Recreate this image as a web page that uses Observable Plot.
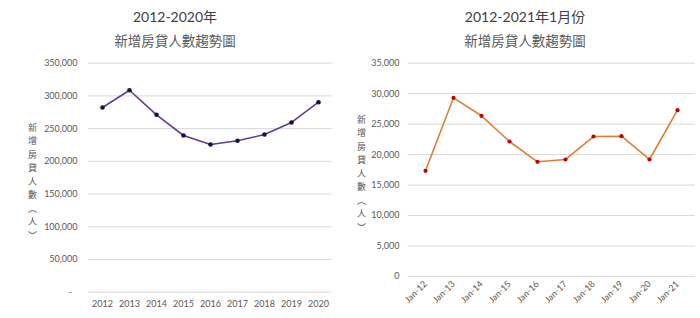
<!DOCTYPE html>
<html>
<head>
<meta charset="utf-8">
<script src="https://cdn.jsdelivr.net/npm/d3@7"></script>
<script src="https://cdn.jsdelivr.net/npm/@observablehq/plot@0.6"></script>
<style>
  html, body { margin: 0; padding: 0; background: #fff; }
  body { width: 700px; height: 318px; overflow: hidden; font-family: Lato, "Noto Sans CJK TC", sans-serif; }
  #wrap { display: flex; }
  .panel { width: 350px; }
  .t1 { height: 24px; line-height: 24px; margin-top: 5px; text-align: center; font-size: 14px; color: #404040; }
  .t2 { height: 23px; line-height: 23px; text-align: center; font-size: 13.5px; color: #595959; font-family: "Noto Sans CJK TC", sans-serif; }
</style>
</head>
<body>
<div id="wrap">
  <div class="panel" id="left"><div class="t1">2012-2020年</div><div class="t2">新增房貸人數趨勢圖</div></div>
  <div class="panel" id="right"><div class="t1">2012-2021年1月份</div><div class="t2">新增房貸人數趨勢圖</div></div>
</div>
<script>
// Left chart: annual
const years = ["2012","2013","2014","2015","2016","2017","2018","2019","2020"];
const yearValues = [282300, 308700, 271100, 239500, 225700, 231400, 241000, 259400, 290400];
const leftTicks = [0, 50000, 100000, 150000, 200000, 250000, 300000, 350000];

// Right chart: January of each year
const months = ["Jan-12","Jan-13","Jan-14","Jan-15","Jan-16","Jan-17","Jan-18","Jan-19","Jan-20","Jan-21"];
const monthValues = [17340, 29320, 26370, 22150, 18820, 19200, 22970, 23020, 19200, 27290];
const rightTicks = [0, 5000, 10000, 15000, 20000, 25000, 30000, 35000];

// Vertical axis title 新增房貸人數（人）, stacked one character per line
const yTitle = "新\n增\n房\n貸\n人\n數\n︵\n人\n︶";

const leftData = years.map((x, i) => ({x, y: yearValues[i]}));
const rightData = months.map((x, i) => ({x, y: monthValues[i]}));

const fmt = d3.format(",");
const fontFamily = 'Lato, "Noto Sans CJK TC", sans-serif';
const cjk = '"Noto Sans CJK TC", sans-serif';

const left = Plot.plot({
  width: 350, height: 266,
  marginTop: 10.7, marginBottom: 26.3, marginLeft: 88, marginRight: 18.3,
  style: {fontFamily, fontSize: "9px", color: "#595959", background: "#fff"},
  x: {type: "point", padding: 0.5, domain: years, tickSize: 0, tickPadding: 8, label: null},
  y: {domain: [0, 350000], ticks: leftTicks, tickSize: 0, tickPadding: 11,
      tickFormat: d => d === 0 ? "-\u2002\u2009" : fmt(d), label: null},
  marks: [
    Plot.ruleY(leftTicks, {stroke: "#d9d9d9", strokeWidth: 1}),
    Plot.line(leftData, {x: "x", y: "y", stroke: "#643c94", strokeWidth: 1.6}),
    Plot.dot(leftData, {x: "x", y: "y", r: 2.3, fill: "#14143f", stroke: "none"}),
    Plot.text([yTitle], {frameAnchor: "left", dx: -56, dy: 2.8, text: d => d, fontSize: 9,
      lineHeight: 1.5, fill: "#595959", textAnchor: "middle", fontFamily: cjk})
  ]
});
document.getElementById("left").appendChild(left);

const right = Plot.plot({
  width: 350, height: 266,
  marginTop: 10.7, marginBottom: 42, marginLeft: 57.7, marginRight: 5,
  style: {fontFamily, fontSize: "9px", color: "#595959", background: "#fff"},
  x: {type: "point", padding: 0.5, domain: months, tickSize: 0, tickPadding: 6, tickRotate: -45, label: null},
  y: {domain: [0, 35000], ticks: rightTicks, tickSize: 0, tickPadding: 8.7,
      tickFormat: d => fmt(d), label: null},
  marks: [
    Plot.ruleY(rightTicks, {stroke: "#d9d9d9", strokeWidth: 1}),
    Plot.line(rightData, {x: "x", y: "y", stroke: "#e07f34", strokeWidth: 1.6}),
    Plot.dot(rightData, {x: "x", y: "y", r: 2.1, fill: "#c00000", stroke: "none"}),
    Plot.text([yTitle], {frameAnchor: "left", dx: -46.7, dy: 2.6, text: d => d, fontSize: 9,
      lineHeight: 1.5, fill: "#595959", textAnchor: "middle", fontFamily: cjk})
  ]
});
document.getElementById("right").appendChild(right);
</script>
</body>
</html>
